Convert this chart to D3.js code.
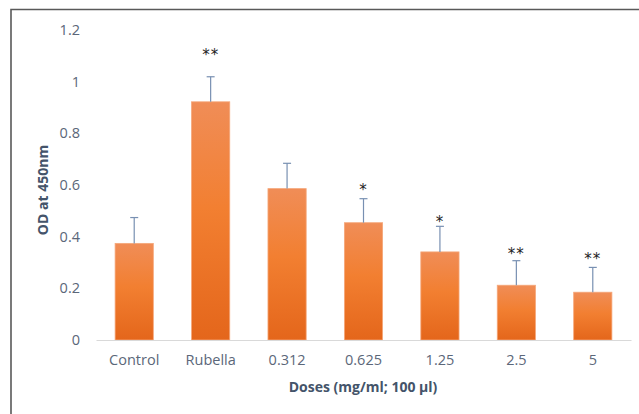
<!DOCTYPE html>
<html>
<head>
<meta charset="utf-8">
<script src="https://cdn.jsdelivr.net/npm/d3@7"></script>
<style>
  body { margin: 0; background: #fff; }
  svg { display: block; font-family: "Open Sans", sans-serif; }
</style>
</head>
<body>
<svg id="chart" width="639" height="414"></svg>
<script>
// values
var doses = ['Control', 'Rubella', '0.312', '0.625', '1.25', '2.5', '5'];
var means = [0.374, 0.922, 0.586, 0.454, 0.341, 0.212, 0.185];
var errors = [0.100, 0.097, 0.098, 0.093, 0.099, 0.095, 0.096];
var stars = ['', '**', '', '*', '*', '**', '**'];
var starLevels = [0, 1.11, 0, 0.59, 0.465, 0.342, 0.322];
var yTicks = [0, 0.2, 0.4, 0.6, 0.8, 1, 1.2];

var svg = d3.select('#chart');

// outer frame
svg.append('path')
    .attr('d', 'M11,420 L11,9.5 L645,9.5')
    .attr('fill', 'none')
    .attr('stroke', '#595959')
    .attr('stroke-width', 1.6);

var defs = svg.append('defs');
var grad = defs.append('linearGradient')
    .attr('id', 'barfill')
    .attr('x1', 0).attr('y1', 0).attr('x2', 0).attr('y2', 1);
grad.append('stop').attr('offset', '0%').attr('stop-color', '#f08d57');
grad.append('stop').attr('offset', '45%').attr('stop-color', '#f27f31');
grad.append('stop').attr('offset', '100%').attr('stop-color', '#e4661b');

var x = d3.scaleBand().domain(doses).range([96, 631]).paddingInner(0.5).paddingOuter(0.25);
var y = d3.scaleLinear().domain([0, 1.2]).range([340, 30]);

var rows = doses.map(function(d, i) {
    return {dose: d, mean: means[i], err: errors[i], star: stars[i], level: starLevels[i]};
});

// y tick labels (no axis line)
var yAxis = svg.append('g')
    .attr('transform', 'translate(96,0)')
    .call(d3.axisLeft(y).tickValues(yTicks).tickSize(0).tickPadding(16)
        .tickFormat(function(d) { return String(d); }));
yAxis.select('.domain').remove();
yAxis.selectAll('text')
    .attr('fill', '#5b6779')
    .style('font-size', '14.5px')
    .style('font-family', '"Open Sans", sans-serif');

// bars
svg.append('g').selectAll('rect')
    .data(rows)
    .join('rect')
    .attr('x', function(d) { return x(d.dose); })
    .attr('y', function(d) { return y(d.mean); })
    .attr('width', x.bandwidth())
    .attr('height', function(d) { return y(0) - y(d.mean); })
    .attr('fill', 'url(#barfill)')
    .attr('stroke', '#f5a77a')
    .attr('stroke-width', 0.8);

// error bars
var eb = svg.append('g').selectAll('g')
    .data(rows)
    .join('g')
    .attr('stroke', '#7890b2')
    .attr('stroke-width', 1.2);
eb.append('line')
    .attr('x1', function(d) { return x(d.dose) + x.bandwidth() / 2; })
    .attr('x2', function(d) { return x(d.dose) + x.bandwidth() / 2; })
    .attr('y1', function(d) { return y(d.mean); })
    .attr('y2', function(d) { return y(d.mean + d.err); });
eb.append('line')
    .attr('x1', function(d) { return x(d.dose) + x.bandwidth() / 2 - 4; })
    .attr('x2', function(d) { return x(d.dose) + x.bandwidth() / 2 + 4; })
    .attr('y1', function(d) { return y(d.mean + d.err); })
    .attr('y2', function(d) { return y(d.mean + d.err); });

// x axis
var xAxis = svg.append('g')
    .attr('transform', 'translate(0,340)')
    .call(d3.axisBottom(x).tickSize(0).tickPadding(15).tickSizeOuter(0));
xAxis.select('.domain').attr('stroke', '#d9d9d9').attr('stroke-width', 1.2);
xAxis.selectAll('text')
    .attr('fill', '#5b6779')
    .style('font-size', '14.5px')
    .style('font-family', '"Open Sans", sans-serif');

// significance stars
svg.append('g').selectAll('text')
    .data(rows.filter(function(d) { return d.star; }))
    .join('text')
    .attr('x', function(d) { return x(d.dose) + x.bandwidth() / 2; })
    .attr('y', function(d) { return y(d.level) + 7; })
    .attr('text-anchor', 'middle')
    .attr('fill', '#222')
    .style('font-size', '15px')
    .style('font-family', '"DejaVu Sans", sans-serif')
    .style('letter-spacing', '1px')
    .text(function(d) { return d.star; });

// axis titles
svg.append('text')
    .attr('x', 363)
    .attr('y', 392)
    .attr('text-anchor', 'middle')
    .attr('fill', '#44546a')
    .style('font-size', '14px')
    .style('font-weight', 'bold')
    .text('Doses (mg/ml; 100 µl)');

svg.append('text')
    .attr('transform', 'translate(48,190) rotate(-90)')
    .attr('text-anchor', 'middle')
    .attr('fill', '#44546a')
    .style('font-size', '14px')
    .style('font-weight', 'bold')
    .text('OD at 450nm');
</script>
</body>
</html>
